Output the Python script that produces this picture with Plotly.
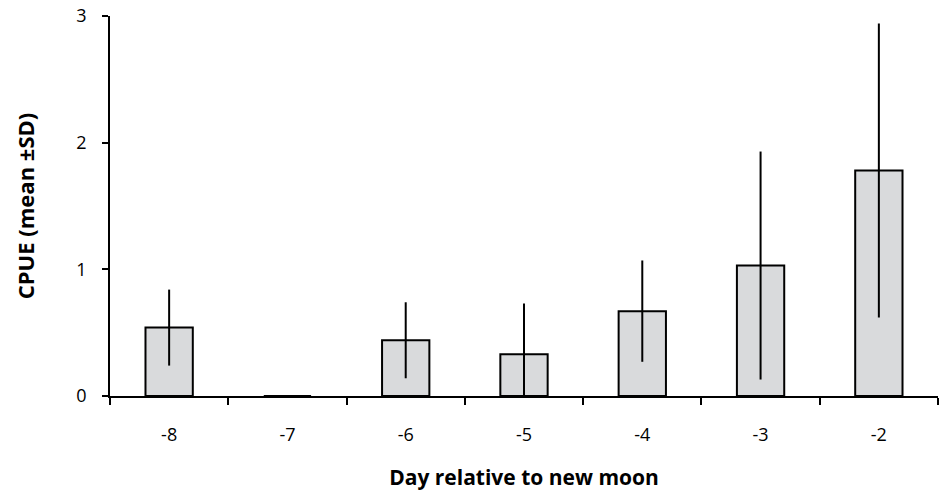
import plotly.graph_objects as go

days = ["-8", "-7", "-6", "-5", "-4", "-3", "-2"]
cpue_mean = [0.54, 0.0, 0.44, 0.33, 0.67, 1.03, 1.78]
cpue_sd = [0.30, 0.0, 0.30, 0.40, 0.40, 0.90, 1.16]
y_ticks = [0, 1, 2, 3]

FONT = "Open Sans, Noto Sans, DejaVu Sans, sans-serif"

fig = go.Figure()
fig.add_trace(go.Bar(
    x=days, y=cpue_mean,
    marker=dict(color="#d9dadc", line=dict(color="black", width=2)),
    error_y=dict(type="data", array=cpue_sd, visible=True, color="black",
                 thickness=2, width=0),
    showlegend=False,
))

fig.update_layout(
    width=941, height=492,
    margin=dict(l=110, r=3, t=16, b=96),
    plot_bgcolor="white", paper_bgcolor="white",
    bargap=0.6,
    font=dict(family=FONT, size=18, color="black"),
    xaxis=dict(
        type="category",
        showline=True, linecolor="black", linewidth=1.5,
        ticks="outside", tickson="boundaries", ticklen=7, tickwidth=1.5,
        tickcolor="black", showgrid=False,
        tickfont=dict(size=18), ticklabelstandoff=22,
        title=dict(text="<b>Day relative to new moon</b>", font=dict(size=21), standoff=25),
    ),
    yaxis=dict(
        range=[0, 3], tickvals=y_ticks,
        showline=True, linecolor="black", linewidth=1.5,
        ticks="outside", ticklen=6, tickwidth=1.5, tickcolor="black",
        showgrid=False, zeroline=False,
        tickfont=dict(size=18), ticklabelstandoff=12,
        title=dict(text="<b>CPUE (mean ±SD)</b>", font=dict(size=22), standoff=36),
    ),
)

fig.write_html(
    "out.html",
    config={"displayModeBar": False},
    post_script="document.body.style.margin='0px';document.body.style.overflow='hidden';",
)
